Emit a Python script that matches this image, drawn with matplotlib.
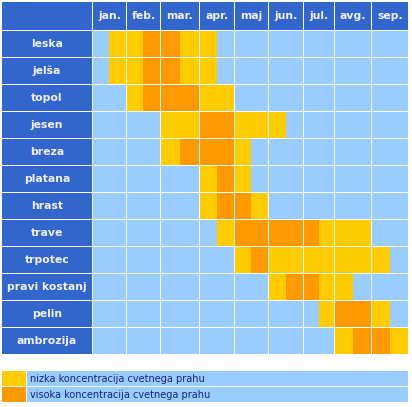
import matplotlib
matplotlib.use("Agg")
import matplotlib.pyplot as plt
import numpy as np

# Pollen calendar data
months = ["jan.", "feb.", "mar.", "apr.", "maj", "jun.", "jul.", "avg.", "sep."]
plants = ["leska", "jelša", "topol", "jesen", "breza", "platana", "hrast",
          "trave", "trpotec", "pravi kostanj", "pelin", "ambrozija"]
# 0 = none, 1 = low, 2 = high; two half-months per month (jan..sep)
levels = [
    [0, 1, 1, 2, 2, 1, 1, 0, 0, 0, 0, 0, 0, 0, 0, 0, 0, 0],  # leska
    [0, 1, 1, 2, 2, 1, 1, 0, 0, 0, 0, 0, 0, 0, 0, 0, 0, 0],  # jelša
    [0, 0, 1, 2, 2, 2, 1, 1, 0, 0, 0, 0, 0, 0, 0, 0, 0, 0],  # topol
    [0, 0, 0, 0, 1, 1, 2, 2, 1, 1, 1, 0, 0, 0, 0, 0, 0, 0],  # jesen
    [0, 0, 0, 0, 1, 2, 2, 2, 1, 0, 0, 0, 0, 0, 0, 0, 0, 0],  # breza
    [0, 0, 0, 0, 0, 0, 1, 2, 1, 0, 0, 0, 0, 0, 0, 0, 0, 0],  # platana
    [0, 0, 0, 0, 0, 0, 1, 2, 2, 1, 0, 0, 0, 0, 0, 0, 0, 0],  # hrast
    [0, 0, 0, 0, 0, 0, 0, 1, 2, 2, 2, 2, 2, 1, 1, 1, 0, 0],  # trave
    [0, 0, 0, 0, 0, 0, 0, 0, 1, 2, 1, 1, 1, 1, 1, 1, 1, 0],  # trpotec
    [0, 0, 0, 0, 0, 0, 0, 0, 0, 0, 1, 2, 2, 1, 1, 0, 0, 0],  # pravi kostanj
    [0, 0, 0, 0, 0, 0, 0, 0, 0, 0, 0, 0, 0, 1, 2, 2, 1, 0],  # pelin
    [0, 0, 0, 0, 0, 0, 0, 0, 0, 0, 0, 0, 0, 0, 1, 2, 2, 1],  # ambrozija
]
legend_labels = ["nizka koncentracija cvetnega prahu",
                 "visoka koncentracija cvetnega prahu"]

# Colours
HEAD = "#3366cc"
NONE = "#99ccff"
LOW = "#ffcc00"
HIGH = "#ff9900"
level_colors = [NONE, LOW, HIGH]

# Layout (pixels)
label_x, label_w = 2, 90
col_w = [34, 34, 39, 35, 34, 35, 31, 37, 37]
col_left = label_x + label_w + 1 + np.concatenate([[0], np.cumsum(col_w)[:-1]])
head_top, head_h = 2, 28
row_top0, row_pitch, row_h = 31, 27, 26

fig = plt.figure(figsize=(4.12, 4.07), dpi=100)
ax = fig.add_axes([0, 0, 1, 1])
ax.set_xlim(0, 412)
ax.set_ylim(407, 0)
ax.axis("off")

txt = dict(color="#f0f0ff", fontweight="bold", fontsize=7.8,
           ha="center", va="center")

# Header row
head_y = head_top + head_h / 2
ax.barh(head_y, label_w, left=label_x, height=head_h, color=HEAD, linewidth=0)
for m, name in enumerate(months):
    w = col_w[m] - 1
    ax.barh(head_y, w, left=col_left[m], height=head_h, color=HEAD, linewidth=0)
    ax.text(col_left[m] + w / 2, head_y, name, **txt)

# Plant rows
for i, plant in enumerate(plants):
    yc = row_top0 + i * row_pitch + row_h / 2
    ax.barh(yc, label_w, left=label_x, height=row_h, color=HEAD, linewidth=0)
    ax.text(label_x + label_w / 2, yc, plant, **txt)
    for m in range(len(months)):
        half = (col_w[m] - 1) / 2
        for h in range(2):
            lvl = levels[i][2 * m + h]
            ax.barh(yc, half, left=col_left[m] + h * half, height=row_h,
                    color=level_colors[lvl], linewidth=0, antialiased=False)

# Legend
leg_top, leg_pitch, leg_h = 371, 16, 15
for k, label in enumerate(legend_labels):
    yc = leg_top + k * leg_pitch + leg_h / 2
    ax.barh(yc, 24, left=2, height=leg_h, color=level_colors[k + 1], linewidth=0)
    ax.barh(yc, 381, left=27, height=leg_h, color=NONE, linewidth=0)
    ax.text(30, yc, label, color="#1a237e", fontsize=7, ha="left", va="center")

fig.savefig("out.png", dpi=100)
